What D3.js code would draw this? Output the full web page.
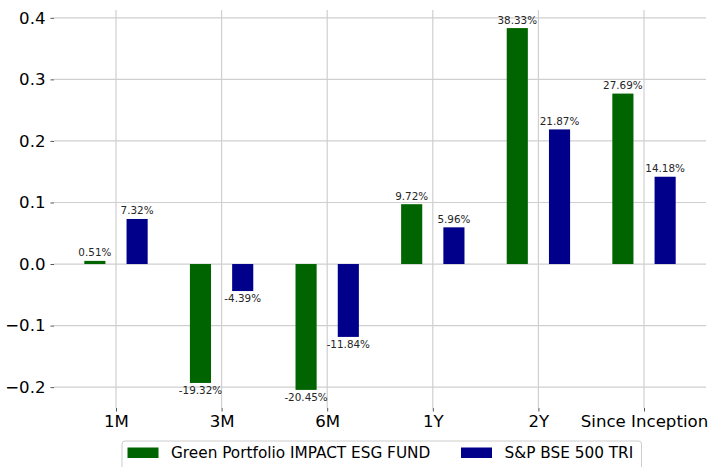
<!DOCTYPE html>
<html>
<head>
<meta charset="utf-8">
<script src="https://cdn.jsdelivr.net/npm/d3@7"></script>
<style>
  body { margin: 0; background: #fff; }
  svg { font-family: "DejaVu Sans", sans-serif; }
</style>
</head>
<body>
<script>
// data
var categories = ["1M", "3M", "6M", "1Y", "2Y", "Since Inception"];
var fundValues = [0.0051, -0.1932, -0.2045, 0.0972, 0.3833, 0.2769];
var indexValues = [0.0732, -0.0439, -0.1184, 0.0596, 0.2187, 0.1418];
var fundLabels = ["0.51%", "-19.32%", "-20.45%", "9.72%", "38.33%", "27.69%"];
var indexLabels = ["7.32%", "-4.39%", "-11.84%", "5.96%", "21.87%", "14.18%"];
var yTicks = [-0.2, -0.1, 0.0, 0.1, 0.2, 0.3, 0.4];
var seriesNames = ["Green Portfolio IMPACT ESG FUND", "S&P BSE 500 TRI"];

var width = 712, height = 467;
// plot box (note: "top" is reserved on window, so use a margin object)
var box = {left: 54, right: 706, top: 10, bottom: 408};

var svg = d3.select("body").append("svg")
    .attr("width", width)
    .attr("height", height);

var x = d3.scaleLinear()
    .domain([-0.587, categories.length - 1 + 0.587])
    .range([box.left, box.right]);

var y = d3.scaleLinear()
    .domain([-0.2339, 0.4127])
    .range([box.bottom, box.top]);

var barW = x(0.2) - x(0);

// grid
svg.append("g").selectAll("line")
    .data(yTicks).enter().append("line")
    .attr("x1", box.left).attr("x2", box.right)
    .attr("y1", function(d) { return y(d); })
    .attr("y2", function(d) { return y(d); })
    .attr("stroke", "#cfcfcf").attr("stroke-width", 1.2);

svg.append("g").selectAll("line")
    .data(categories).enter().append("line")
    .attr("x1", function(d, i) { return x(i); })
    .attr("x2", function(d, i) { return x(i); })
    .attr("y1", box.top).attr("y2", box.bottom)
    .attr("stroke", "#cfcfcf").attr("stroke-width", 1.2);

// axes
var yAxis = svg.append("g")
    .attr("transform", "translate(" + box.left + ",0)")
    .call(d3.axisLeft(y).tickValues(yTicks).tickSize(3.5).tickPadding(5)
      .tickFormat(function(d) { return d3.format(".1f")(d).replace("-", "\u2212"); }));
yAxis.select(".domain").remove();
yAxis.selectAll("line").attr("stroke", "#555");
yAxis.selectAll("text").attr("font-size", "16.6px").attr("fill", "#000")
    .attr("font-family", "DejaVu Sans");

var xAxis = svg.append("g")
    .attr("transform", "translate(0," + box.bottom + ")")
    .call(d3.axisBottom(x).tickValues(d3.range(categories.length)).tickSize(3.5).tickPadding(4)
      .tickFormat(function(d) { return categories[d]; }));
xAxis.select(".domain").remove();
xAxis.selectAll("line").attr("stroke", "#555");
xAxis.selectAll("text").attr("font-size", "16.6px").attr("fill", "#000")
    .attr("font-family", "DejaVu Sans");

// bars
var series = [
  {values: fundValues, labels: fundLabels, color: "#006400", off: -0.2},
  {values: indexValues, labels: indexLabels, color: "#00008b", off: 0.2}
];

series.forEach(function(s) {
  var g = svg.append("g");
  g.selectAll("rect")
    .data(s.values).enter().append("rect")
    .attr("x", function(d, i) { return x(i + s.off) - barW / 2; })
    .attr("y", function(d) { return y(Math.max(d, 0)); })
    .attr("width", barW)
    .attr("height", function(d) { return Math.abs(y(d) - y(0)); })
    .attr("fill", s.color);

  g.selectAll("text")
    .data(s.values).enter().append("text")
    .attr("x", function(d, i) { return x(i + s.off); })
    .attr("y", function(d) { return d >= 0 ? y(d) - 4.5 : y(d) + 11; })
    .attr("text-anchor", "middle")
    .attr("font-size", "10.4px")
    .attr("fill", "#262626")
    .text(function(d, i) { return s.labels[i]; });
});

// legend
var legend = svg.append("g");
legend.append("rect")
    .attr("x", 122).attr("y", 441)
    .attr("width", 519.5).attr("height", 34)
    .attr("rx", 3).attr("ry", 3)
    .attr("fill", "#fff").attr("stroke", "#cccccc");

var legendX = [127.5, 461];
series.forEach(function(s, i) {
  legend.append("rect")
    .attr("x", legendX[i]).attr("y", 447.5)
    .attr("width", 31).attr("height", 10.5)
    .attr("fill", s.color);
  legend.append("text")
    .attr("x", legendX[i] + 43.5).attr("y", 458)
    .attr("font-size", "15.3px")
    .attr("fill", "#000")
    .text(seriesNames[i]);
});
</script>
</body>
</html>
